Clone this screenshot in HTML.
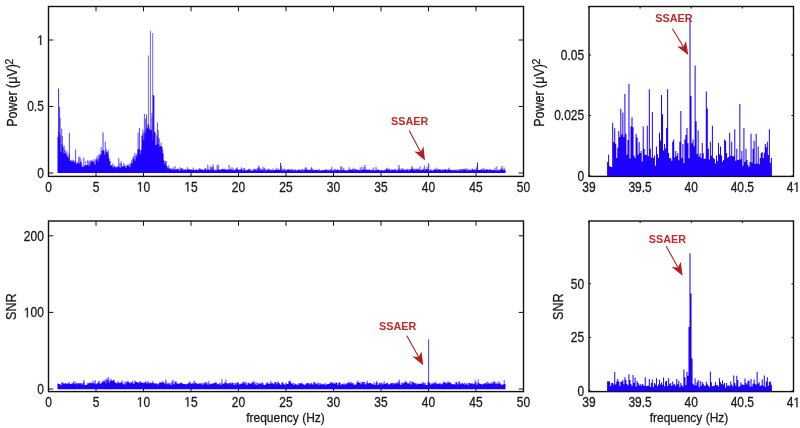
<!DOCTYPE html>
<html><head><meta charset="utf-8"><style>
html,body{margin:0;padding:0;background:#fff;width:800px;height:428px;overflow:hidden}
svg{display:block;will-change:transform}
</style></head><body><svg width="800" height="428" viewBox="0 0 800 428" font-family='"Liberation Sans", sans-serif' font-size="12" fill="#1a1a1a"><style>text{stroke:#1a1a1a;stroke-width:0.25px} text.r{stroke:none}</style><rect x="48.5" y="6.5" width="475.0" height="169.9" fill="none" stroke="#111" stroke-width="1.4"/><path d="M48.50 176.4v-4.8M48.50 6.5v4.8M96.00 176.4v-4.8M96.00 6.5v4.8M143.50 176.4v-4.8M143.50 6.5v4.8M191.00 176.4v-4.8M191.00 6.5v4.8M238.50 176.4v-4.8M238.50 6.5v4.8M286.00 176.4v-4.8M286.00 6.5v4.8M333.50 176.4v-4.8M333.50 6.5v4.8M381.00 176.4v-4.8M381.00 6.5v4.8M428.50 176.4v-4.8M428.50 6.5v4.8M476.00 176.4v-4.8M476.00 6.5v4.8M523.50 176.4v-4.8M523.50 6.5v4.8M48.5 173.00h4.8M523.5 173.00h-4.8M48.5 106.50h4.8M523.5 106.50h-4.8M48.5 40.00h4.8M523.5 40.00h-4.8" stroke="#111" stroke-width="1" fill="none"/><text transform="translate(48.50,191.59) scale(1,1.15)" text-anchor="middle">0</text><text transform="translate(96.00,191.59) scale(1,1.15)" text-anchor="middle">5</text><text transform="translate(143.50,191.59) scale(1,1.15)" text-anchor="middle"> 0</text><path transform="translate(136.83,191.59) scale(0.005859,-0.006738)" d="M515 0L515 1237L197 1010L197 1180L530 1409L696 1409L696 0Z" fill="#1a1a1a" stroke="#1a1a1a" stroke-width="42.7"/><text transform="translate(191.00,191.59) scale(1,1.15)" text-anchor="middle"> 5</text><path transform="translate(184.33,191.59) scale(0.005859,-0.006738)" d="M515 0L515 1237L197 1010L197 1180L530 1409L696 1409L696 0Z" fill="#1a1a1a" stroke="#1a1a1a" stroke-width="42.7"/><text transform="translate(238.50,191.59) scale(1,1.15)" text-anchor="middle">20</text><text transform="translate(286.00,191.59) scale(1,1.15)" text-anchor="middle">25</text><text transform="translate(333.50,191.59) scale(1,1.15)" text-anchor="middle">30</text><text transform="translate(381.00,191.59) scale(1,1.15)" text-anchor="middle">35</text><text transform="translate(428.50,191.59) scale(1,1.15)" text-anchor="middle">40</text><text transform="translate(476.00,191.59) scale(1,1.15)" text-anchor="middle">45</text><text transform="translate(523.50,191.59) scale(1,1.15)" text-anchor="middle">50</text><text transform="translate(43.80,177.94) scale(1,1.15)" text-anchor="end">0</text><text transform="translate(43.80,111.44) scale(1,1.15)" text-anchor="end">0.5</text><text transform="translate(43.80,44.95) scale(1,1.15)" text-anchor="end"> </text><path transform="translate(37.13,44.95) scale(0.005859,-0.006738)" d="M515 0L515 1237L197 1010L197 1180L530 1409L696 1409L696 0Z" fill="#1a1a1a" stroke="#1a1a1a" stroke-width="42.7"/><rect x="589.0" y="6.5" width="204.5" height="169.9" fill="none" stroke="#111" stroke-width="1.4"/><path d="M589.00 176.4v-2.0M589.00 6.5v2.0M640.10 176.4v-2.0M640.10 6.5v2.0M691.20 176.4v-2.0M691.20 6.5v2.0M742.30 176.4v-2.0M742.30 6.5v2.0M793.40 176.4v-2.0M793.40 6.5v2.0M589.0 176.00h2.0M793.5 176.00h-2.0M589.0 115.50h2.0M793.5 115.50h-2.0M589.0 55.00h2.0M793.5 55.00h-2.0" stroke="#111" stroke-width="1" fill="none"/><text transform="translate(589.00,191.89) scale(1,1.15)" text-anchor="middle">39</text><text transform="translate(640.10,191.89) scale(1,1.15)" text-anchor="middle">39.5</text><text transform="translate(691.20,191.89) scale(1,1.15)" text-anchor="middle">40</text><text transform="translate(742.30,191.89) scale(1,1.15)" text-anchor="middle">40.5</text><text transform="translate(793.40,191.89) scale(1,1.15)" text-anchor="middle">4 </text><path transform="translate(793.40,191.89) scale(0.005859,-0.006738)" d="M515 0L515 1237L197 1010L197 1180L530 1409L696 1409L696 0Z" fill="#1a1a1a" stroke="#1a1a1a" stroke-width="42.7"/><text transform="translate(584.20,180.94) scale(1,1.15)" text-anchor="end">0</text><text transform="translate(584.20,120.44) scale(1,1.15)" text-anchor="end">0.025</text><text transform="translate(584.20,59.95) scale(1,1.15)" text-anchor="end">0.05</text><rect x="48.5" y="221.0" width="475.0" height="170.60000000000002" fill="none" stroke="#111" stroke-width="1.4"/><path d="M48.50 391.6v-4.8M48.50 221.0v4.8M96.00 391.6v-4.8M96.00 221.0v4.8M143.50 391.6v-4.8M143.50 221.0v4.8M191.00 391.6v-4.8M191.00 221.0v4.8M238.50 391.6v-4.8M238.50 221.0v4.8M286.00 391.6v-4.8M286.00 221.0v4.8M333.50 391.6v-4.8M333.50 221.0v4.8M381.00 391.6v-4.8M381.00 221.0v4.8M428.50 391.6v-4.8M428.50 221.0v4.8M476.00 391.6v-4.8M476.00 221.0v4.8M523.50 391.6v-4.8M523.50 221.0v4.8M48.5 389.00h4.8M523.5 389.00h-4.8M48.5 312.40h4.8M523.5 312.40h-4.8M48.5 235.80h4.8M523.5 235.80h-4.8" stroke="#111" stroke-width="1" fill="none"/><text transform="translate(48.50,406.69) scale(1,1.15)" text-anchor="middle">0</text><text transform="translate(96.00,406.69) scale(1,1.15)" text-anchor="middle">5</text><text transform="translate(143.50,406.69) scale(1,1.15)" text-anchor="middle"> 0</text><path transform="translate(136.83,406.69) scale(0.005859,-0.006738)" d="M515 0L515 1237L197 1010L197 1180L530 1409L696 1409L696 0Z" fill="#1a1a1a" stroke="#1a1a1a" stroke-width="42.7"/><text transform="translate(191.00,406.69) scale(1,1.15)" text-anchor="middle"> 5</text><path transform="translate(184.33,406.69) scale(0.005859,-0.006738)" d="M515 0L515 1237L197 1010L197 1180L530 1409L696 1409L696 0Z" fill="#1a1a1a" stroke="#1a1a1a" stroke-width="42.7"/><text transform="translate(238.50,406.69) scale(1,1.15)" text-anchor="middle">20</text><text transform="translate(286.00,406.69) scale(1,1.15)" text-anchor="middle">25</text><text transform="translate(333.50,406.69) scale(1,1.15)" text-anchor="middle">30</text><text transform="translate(381.00,406.69) scale(1,1.15)" text-anchor="middle">35</text><text transform="translate(428.50,406.69) scale(1,1.15)" text-anchor="middle">40</text><text transform="translate(476.00,406.69) scale(1,1.15)" text-anchor="middle">45</text><text transform="translate(523.50,406.69) scale(1,1.15)" text-anchor="middle">50</text><text transform="translate(43.80,393.94) scale(1,1.15)" text-anchor="end">0</text><text transform="translate(43.80,317.34) scale(1,1.15)" text-anchor="end"> 00</text><path transform="translate(23.78,317.34) scale(0.005859,-0.006738)" d="M515 0L515 1237L197 1010L197 1180L530 1409L696 1409L696 0Z" fill="#1a1a1a" stroke="#1a1a1a" stroke-width="42.7"/><text transform="translate(43.80,240.75) scale(1,1.15)" text-anchor="end">200</text><rect x="589.0" y="221.0" width="204.5" height="170.60000000000002" fill="none" stroke="#111" stroke-width="1.4"/><path d="M589.00 391.6v-2.0M589.00 221.0v2.0M640.10 391.6v-2.0M640.10 221.0v2.0M691.20 391.6v-2.0M691.20 221.0v2.0M742.30 391.6v-2.0M742.30 221.0v2.0M793.40 391.6v-2.0M793.40 221.0v2.0M589.0 391.00h2.0M793.5 391.00h-2.0M589.0 337.40h2.0M793.5 337.40h-2.0M589.0 283.80h2.0M793.5 283.80h-2.0" stroke="#111" stroke-width="1" fill="none"/><text transform="translate(589.00,407.19) scale(1,1.15)" text-anchor="middle">39</text><text transform="translate(640.10,407.19) scale(1,1.15)" text-anchor="middle">39.5</text><text transform="translate(691.20,407.19) scale(1,1.15)" text-anchor="middle">40</text><text transform="translate(742.30,407.19) scale(1,1.15)" text-anchor="middle">40.5</text><text transform="translate(793.40,407.19) scale(1,1.15)" text-anchor="middle">4 </text><path transform="translate(793.40,407.19) scale(0.005859,-0.006738)" d="M515 0L515 1237L197 1010L197 1180L530 1409L696 1409L696 0Z" fill="#1a1a1a" stroke="#1a1a1a" stroke-width="42.7"/><text transform="translate(584.20,395.94) scale(1,1.15)" text-anchor="end">0</text><text transform="translate(584.20,342.34) scale(1,1.15)" text-anchor="end">25</text><text transform="translate(584.20,288.75) scale(1,1.15)" text-anchor="end">50</text><path d="M607.09 176.0V162.0H608.11V154.7H609.13V166.0H610.14V167.0H611.16V167.0H612.18V122.8H613.20V142.0H614.21V128.2H615.23V143.7H616.25V158.0H617.27V147.4H618.28V131.0H619.30V137.0H620.32V108.7H621.33V134.6H622.35V112.4H623.37V137.0H624.39V94.0H625.40V133.7H626.42V154.7H627.44V140.0H628.46V84.0H629.47V158.5H630.49V126.4H631.51V117.3H632.53V127.3H633.54V155.7H634.56V158.0H635.58V133.7H636.60V137.4H637.61V154.7H638.63V142.0H639.65V153.0H640.67V151.0H641.68V161.5H642.70V126.4H643.72V149.0H644.73V155.1H645.75V154.7H646.77V125.8H647.79V156.2H648.80V89.2H649.82V148.7H650.84V157.5H651.86V112.0H652.87V157.9H653.89V155.6H654.91V165.8H655.93V146.4H656.94V154.2H657.96V158.0H658.98V132.7H660.00V140.6H661.01V94.9H662.03V114.3H663.05V150.5H664.07V144.0H665.08V148.6H666.10V128.0H667.12V89.2H668.13V153.0H669.15V158.6H670.17V158.0H671.19V160.8H672.20V141.8H673.22V139.5H674.24V157.4H675.26V151.0H676.27V156.0H677.29V153.0H678.31V160.3H679.33V141.8H680.34V110.9H681.36V158.1H682.38V144.0H683.40V163.1H684.41V139.5H685.43V135.0H686.45V128.0H687.47V143.2H688.48V158.3H689.50V19.0H690.52V96.0H691.53V143.2H692.55V139.5H693.57V146.3H694.59V65.5H695.60V121.2H696.62V154.0H697.64V130.4H698.66V156.5H699.67V153.3H700.69V157.9H701.71V143.0H702.73V153.3H703.74V158.9H704.76V158.5H705.78V91.4H706.80V108.6H707.81V148.7H708.83V159.6H709.85V141.8H710.87V155.7H711.88V125.8H712.90V157.9H713.92V159.2H714.93V163.6H715.95V155.6H716.97V161.1H717.99V143.0H719.00V154.2H720.02V146.4H721.04V155.6H722.06V161.8H723.07V160.1H724.09V139.5H725.11V140.7H726.13V153.3H727.14V157.9H728.16V156.9H729.18V132.7H730.20V155.8H731.21V141.8H732.23V156.3H733.25V156.2H734.27V129.2H735.28V160.7H736.30V148.7H737.32V160.0H738.33V159.7H739.35V104.0H740.37V159.2H741.39V151.0H742.40V165.7H743.42V128.0H744.44V162.1H745.46V148.7H746.47V160.0H747.49V164.9H748.51V167.0H749.53V161.9H750.54V133.8H751.56V162.8H752.58V148.7H753.60V140.7H754.61V163.9H755.63V133.8H756.65V163.5H757.67V146.4H758.68V164.2H759.70V157.9H760.72V153.1H761.73V152.0H762.75V157.9H763.77V152.8H764.79V144.0H765.80V147.2H766.82V141.8H767.84V155.0H768.86V129.2H769.87V163.1H770.89V157.9H771.91V176.0Z" fill="#1e00ff"/><path d="M607.09 391.3V381.2H608.11V381.2H609.13V381.5H610.14V385.9H611.16V383.0H612.18V383.0H613.20V384.5H614.21V372.1H615.23V384.5H616.25V381.6H617.27V379.0H618.28V381.5H619.30V386.1H620.32V382.0H621.33V381.5H622.35V380.0H623.37V384.3H624.39V377.2H625.40V380.0H626.42V384.0H627.44V385.3H628.46V374.3H629.47V380.0H630.49V384.0H631.51V386.0H632.53V375.0H633.54V383.0H634.56V377.6H635.58V386.5H636.60V381.0H637.61V383.0H638.63V385.6H639.65V384.0H640.67V385.8H641.68V384.0H642.70V384.7H643.72V386.1H644.73V377.2H645.75V386.1H646.77V386.0H647.79V385.4H648.80V379.0H649.82V387.0H650.84V383.0H651.86V379.4H652.87V387.1H653.89V383.0H654.91V384.4H655.93V378.3H656.94V386.3H657.96V384.5H658.98V379.8H660.00V384.5H661.01V382.3H662.03V384.8H663.05V377.6H664.07V386.3H665.08V381.6H666.10V380.8H667.12V386.1H668.13V378.3H669.15V384.2H670.17V383.0H671.19V386.1H672.20V381.6H673.22V384.7H674.24V383.7H675.26V386.1H676.27V379.0H677.29V384.3H678.31V380.8H679.33V387.2H680.34V383.0H681.36V385.3H682.38V386.6H683.40V369.6H684.41V377.2H685.43V385.0H686.45V371.8H687.47V375.8H688.48V327.0H689.50V253.6H690.52V293.6H691.53V358.6H692.55V383.7H693.57V385.2H694.59V378.3H695.60V385.3H696.62V382.3H697.64V380.0H698.66V387.2H699.67V381.0H700.69V385.8H701.71V382.0H702.73V383.7H703.74V385.7H704.76V385.7H705.78V381.6H706.80V384.2H707.81V385.4H708.83V387.1H709.85V371.4H710.87V382.3H711.88V386.3H712.90V386.0H713.92V385.7H714.93V382.0H715.95V384.9H716.97V385.2H717.99V386.5H719.00V378.3H720.02V382.3H721.04V384.3H722.06V380.5H723.07V384.6H724.09V383.0H725.11V387.4H726.13V383.0H727.14V385.7H728.16V385.2H729.18V386.2H730.20V381.6H731.21V384.5H732.23V386.3H733.25V375.4H734.27V383.0H735.28V385.6H736.30V375.8H737.32V380.0H738.33V387.1H739.35V386.0H740.37V382.3H741.39V384.5H742.40V384.5H743.42V385.2H744.44V378.5H745.46V383.0H746.47V384.6H747.49V380.8H748.51V380.8H749.53V386.5H750.54V379.0H751.56V386.5H752.58V383.7H753.60V379.4H754.61V383.7H755.63V384.7H756.65V372.1H757.67V383.7H758.68V382.3H759.70V385.9H760.72V385.2H761.73V379.4H762.75V385.8H763.77V375.4H764.79V387.0H765.80V381.6H766.82V377.2H767.84V386.0H768.86V382.0H769.87V381.6H770.89V384.8H771.91V391.3Z" fill="#1e00ff"/><path d="M57.50 173.0V136.9H58.50V135.0H59.50V140.1H60.50V151.7H61.50V143.9H62.50V147.6H63.50V153.2H64.50V150.9H65.50V153.8H66.50V155.6H67.50V157.9H68.50V157.1H69.50V160.9H70.50V160.1H71.50V161.6H72.50V159.8H73.50V161.6H74.50V162.6H75.50V163.9H76.50V163.2H77.50V163.0H78.50V163.7H79.50V161.3H80.50V162.3H81.50V166.8H82.50V167.1H83.50V165.3H84.50V165.9H85.50V165.3H86.50V165.0H87.50V162.6H88.50V166.1H89.50V164.4H90.50V160.3H91.50V161.6H92.50V161.1H93.50V163.0H94.50V164.5H95.50V160.1H96.50V159.5H97.50V161.6H98.50V158.4H99.50V153.9H100.50V155.3H101.50V150.9H102.50V149.9H103.50V150.9H104.50V154.8H105.50V152.2H106.50V151.6H107.50V153.9H108.50V158.8H109.50V161.1H110.50V165.6H111.50V165.0H112.50V167.7H113.50V165.7H114.50V167.0H115.50V168.3H116.50V167.2H117.50V166.6H118.50V166.3H119.50V167.7H120.50V167.8H121.50V166.2H122.50V166.9H123.50V166.0H124.50V165.3H125.50V168.1H126.50V165.8H127.50V164.6H128.50V166.4H129.50V167.0H130.50V164.1H131.50V163.1H132.50V159.0H133.50V159.0H134.50V160.7H135.50V155.9H136.50V156.5H137.50V149.3H138.50V148.7H139.50V154.0H140.50V150.0H141.50V135.5H142.50V133.8H143.50V140.1H144.50V134.4H145.50V129.7H146.50V128.5H147.50V124.3H148.50V128.0H149.50V129.8H150.50V130.1H151.50V118.1H152.50V139.9H153.50V132.1H154.50V132.8H155.50V144.9H156.50V135.3H157.50V143.9H158.50V138.3H159.50V146.6H160.50V146.1H161.50V147.3H162.50V153.7H163.50V160.4H164.50V164.3H165.50V161.3H166.50V166.1H167.50V168.6H168.50V168.2H169.50V168.9H170.50V168.4H171.50V169.4H172.50V169.4H173.50V169.9H174.50V169.1H175.50V170.1H176.50V169.0H177.50V168.5H178.50V170.4H179.50V170.4H180.50V169.1H181.50V168.4H182.50V170.1H183.50V170.3H184.50V169.1H185.50V170.0H186.50V169.8H187.50V169.7H188.50V169.2H189.50V169.8H190.50V169.4H191.50V169.7H192.50V170.1H193.50V169.8H194.50V170.2H195.50V169.6H196.50V170.3H197.50V170.3H198.50V168.7H199.50V169.6H200.50V169.6H201.50V169.3H202.50V169.9H203.50V169.8H204.50V169.4H205.50V169.4H206.50V170.3H207.50V169.1H208.50V170.0H209.50V170.3H210.50V170.2H211.50V169.9H212.50V168.6H213.50V170.4H214.50V169.6H215.50V170.6H216.50V169.7H217.50V169.1H218.50V169.8H219.50V170.0H220.50V169.5H221.50V169.2H222.50V169.3H223.50V168.7H224.50V169.6H225.50V170.0H226.50V169.8H227.50V169.7H228.50V169.6H229.50V169.7H230.50V169.6H231.50V170.6H232.50V169.2H233.50V170.1H234.50V170.4H235.50V169.3H236.50V168.9H237.50V169.4H238.50V169.6H239.50V170.3H240.50V168.8H241.50V169.2H242.50V170.4H243.50V170.2H244.50V169.7H245.50V170.7H246.50V169.7H247.50V170.0H248.50V169.0H249.50V169.2H250.50V170.7H251.50V169.7H252.50V170.7H253.50V169.1H254.50V169.7H255.50V169.5H256.50V170.4H257.50V168.8H258.50V168.8H259.50V170.4H260.50V169.6H261.50V170.2H262.50V169.8H263.50V170.5H264.50V168.9H265.50V170.4H266.50V170.0H267.50V169.5H268.50V170.2H269.50V170.0H270.50V170.2H271.50V169.9H272.50V170.5H273.50V170.1H274.50V170.0H275.50V170.0H276.50V169.8H277.50V170.0H278.50V169.4H279.50V170.0H280.50V169.9H281.50V170.2H282.50V170.2H283.50V170.6H284.50V169.6H285.50V170.5H286.50V170.3H287.50V169.7H288.50V169.6H289.50V170.1H290.50V170.8H291.50V169.6H292.50V169.7H293.50V170.7H294.50V169.4H295.50V170.3H296.50V170.5H297.50V169.8H298.50V170.0H299.50V169.8H300.50V170.8H301.50V169.0H302.50V170.2H303.50V170.8H304.50V169.6H305.50V170.1H306.50V169.7H307.50V170.1H308.50V170.0H309.50V169.8H310.50V170.3H311.50V169.5H312.50V170.2H313.50V170.4H314.50V169.9H315.50V169.7H316.50V170.1H317.50V170.4H318.50V169.6H319.50V170.8H320.50V170.5H321.50V169.9H322.50V170.7H323.50V169.9H324.50V170.0H325.50V169.5H326.50V170.5H327.50V170.3H328.50V169.8H329.50V170.8H330.50V169.1H331.50V170.4H332.50V170.4H333.50V169.5H334.50V170.0H335.50V170.8H336.50V169.6H337.50V169.5H338.50V170.2H339.50V170.2H340.50V169.7H341.50V170.5H342.50V169.8H343.50V169.9H344.50V170.4H345.50V170.8H346.50V170.1H347.50V170.5H348.50V169.4H349.50V169.9H350.50V169.6H351.50V169.9H352.50V169.8H353.50V170.4H354.50V169.6H355.50V169.1H356.50V170.1H357.50V170.3H358.50V170.1H359.50V170.2H360.50V170.4H361.50V169.9H362.50V170.1H363.50V169.2H364.50V170.0H365.50V169.8H366.50V169.4H367.50V170.1H368.50V169.2H369.50V170.3H370.50V170.4H371.50V170.2H372.50V170.0H373.50V170.7H374.50V170.0H375.50V170.8H376.50V169.2H377.50V170.0H378.50V170.3H379.50V170.5H380.50V170.2H381.50V170.1H382.50V170.5H383.50V170.5H384.50V170.0H385.50V170.2H386.50V169.4H387.50V169.3H388.50V169.9H389.50V169.7H390.50V170.7H391.50V169.6H392.50V170.0H393.50V169.7H394.50V169.0H395.50V170.8H396.50V169.8H397.50V170.5H398.50V169.6H399.50V170.7H400.50V170.2H401.50V169.8H402.50V169.6H403.50V169.9H404.50V170.4H405.50V170.2H406.50V169.4H407.50V169.9H408.50V170.8H409.50V169.4H410.50V169.7H411.50V169.4H412.50V170.1H413.50V169.4H414.50V170.5H415.50V169.6H416.50V170.2H417.50V169.5H418.50V169.3H419.50V170.3H420.50V169.9H421.50V169.9H422.50V169.2H423.50V169.5H424.50V170.6H425.50V169.6H426.50V169.5H427.50V169.0H428.50V170.8H429.50V170.2H430.50V169.2H431.50V170.7H432.50V170.6H433.50V169.6H434.50V169.3H435.50V170.3H436.50V169.6H437.50V169.9H438.50V169.1H439.50V169.9H440.50V169.4H441.50V170.4H442.50V170.0H443.50V170.0H444.50V169.3H445.50V169.6H446.50V170.4H447.50V169.6H448.50V169.5H449.50V170.0H450.50V170.1H451.50V170.0H452.50V170.8H453.50V169.8H454.50V169.8H455.50V170.4H456.50V169.5H457.50V170.7H458.50V170.3H459.50V170.2H460.50V169.0H461.50V170.8H462.50V169.6H463.50V169.4H464.50V169.7H465.50V169.3H466.50V170.5H467.50V170.8H468.50V169.5H469.50V170.6H470.50V170.1H471.50V170.6H472.50V169.4H473.50V169.5H474.50V170.4H475.50V169.5H476.50V169.9H477.50V170.0H478.50V169.9H479.50V170.1H480.50V169.6H481.50V169.8H482.50V170.2H483.50V169.4H484.50V170.3H485.50V169.8H486.50V169.7H487.50V169.2H488.50V170.3H489.50V169.1H490.50V169.9H491.50V170.1H492.50V170.4H493.50V169.7H494.50V170.0H495.50V170.6H496.50V170.6H497.50V170.3H498.50V170.4H499.50V169.4H500.50V169.2H501.50V169.5H502.50V169.8H503.50V170.2H504.50V170.0H505.50V173.0Z" fill="#1e00ff"/><path d="M58.7 135.5V131.7M60.3 140.6V135.1M62.8 148.1V146.5M64.1 153.7V145.6M65.0 151.4V149.4M66.2 154.3V152.5M67.8 158.4V156.0M69.1 157.6V153.3M75.0 163.1V160.4M77.1 163.7V161.9M78.7 164.2V157.1M79.9 161.8V156.5M81.9 167.3V164.6M83.8 165.8V157.4M85.0 166.4V165.4M87.7 163.1V160.1M89.2 166.6V160.6M93.1 161.6V159.5M94.2 163.5V161.0M96.2 160.6V158.4M97.0 160.0V156.4M98.3 162.1V160.4M99.2 158.9V156.3M100.9 155.8V154.8M103.3 150.4V149.7M105.0 155.3V154.7M106.1 152.7V149.0M107.7 154.4V151.7M109.1 159.3V158.1M112.3 165.5V164.7M112.8 168.2V167.0M114.8 167.5V166.3M116.3 168.8V166.2M118.8 166.8V158.2M120.0 168.2V163.0M121.2 168.3V161.3M123.1 167.4V165.9M123.8 166.5V162.9M126.2 168.6V166.7M126.7 166.3V165.6M128.7 166.9V165.2M130.0 167.5V163.3M131.1 164.6V162.8M131.8 163.6V160.0M133.2 159.5V157.2M133.8 159.5V155.6M135.0 161.2V153.1M137.2 157.0V153.5M139.7 154.5V150.1M142.9 134.3V129.4M144.1 140.6V132.0M144.9 134.9V132.4M146.9 129.0V127.7M148.8 128.5V125.5M152.0 118.6V113.0M153.1 140.4V134.7M154.2 132.6V131.8M155.3 133.3V132.5M159.8 147.1V146.2M161.9 147.8V146.7M163.1 154.2V153.5M165.3 164.8V161.6M165.9 161.8V161.0M168.2 169.1V167.6M168.8 168.7V165.3M171.0 168.9V168.1M173.3 169.9V167.3M173.9 170.4V168.9M175.0 169.6V166.0M176.2 170.6V169.1M178.8 170.9V169.2M180.1 170.9V167.3M181.1 169.6V168.2M183.1 170.6V168.4M187.2 170.3V167.2M188.2 170.2V168.7M189.2 169.7V169.0M193.2 170.6V167.5M196.1 170.1V169.4M196.8 170.8V169.9M197.7 170.8V170.1M199.8 170.1V168.3M200.9 170.1V169.3M205.0 169.9V168.2M205.7 169.9V168.1M207.0 170.8V169.6M207.8 169.6V164.6M208.7 170.5V169.3M210.2 170.8V166.3M211.2 170.7V167.8M211.7 170.4V166.8M213.1 169.1V166.9M213.7 170.9V170.3M217.1 170.2V165.2M218.3 169.6V164.6M219.1 170.3V169.8M221.9 169.7V168.8M225.8 170.5V168.8M226.9 170.3V169.6M230.2 170.2V169.2M230.9 170.1V169.0M231.9 171.1V167.2M233.1 169.7V168.5M235.0 170.9V170.1M235.9 169.8V168.1M237.1 169.4V167.3M241.7 169.7V167.3M243.8 170.7V167.9M244.7 170.2V168.3M248.9 169.5V168.6M254.1 169.6V168.6M256.2 170.0V168.7M257.9 169.3V167.7M259.8 170.9V167.5M260.9 170.1V168.8M261.8 170.7V169.6M263.0 170.3V167.2M264.1 171.0V167.4M265.1 169.4V168.3M267.9 170.0V168.6M269.1 170.7V168.9M270.3 170.5V169.2M273.0 171.0V168.4M276.2 170.5V167.7M278.1 170.5V168.4M281.3 170.4V165.7M282.8 170.7V168.4M284.1 171.1V169.2M284.8 170.1V169.3M287.0 170.8V169.5M287.8 170.2V169.2M290.1 170.6V168.7M290.7 171.3V170.3M291.7 170.1V169.3M292.9 170.2V169.6M294.0 171.2V170.6M295.2 169.9V169.4M297.9 170.3V169.8M299.2 170.5V169.7M300.7 171.3V170.3M304.0 171.3V169.0M305.2 170.1V167.4M306.2 170.6V167.4M306.8 170.2V168.8M311.0 170.8V168.4M311.7 170.0V167.1M312.8 170.7V168.7M313.7 170.9V169.9M318.9 170.1V169.1M320.1 171.3V170.6M323.1 171.2V170.2M326.2 170.0V169.3M327.0 171.0V169.8M327.9 170.8V170.0M330.0 171.3V170.2M331.8 170.9V167.1M335.0 170.5V168.5M336.2 171.3V170.1M340.1 170.7V170.1M340.8 170.2V166.3M341.9 171.0V166.4M343.8 170.4V168.1M345.7 171.3V170.0M349.1 169.9V167.3M349.8 170.4V169.6M352.0 170.4V169.0M353.1 170.3V168.8M353.9 170.9V167.7M356.7 170.6V170.1M357.7 170.8V169.7M360.2 170.7V167.4M360.9 170.9V170.0M361.9 170.4V166.6M363.1 170.6V169.1M364.1 169.7V167.0M366.0 170.3V169.6M369.8 170.8V169.7M370.9 170.9V170.1M371.9 170.7V169.6M373.2 170.5V167.6M374.9 170.5V169.5M376.0 171.3V166.9M378.8 170.8V169.5M384.8 170.5V169.8M386.2 170.7V168.5M386.7 169.9V167.6M387.8 169.8V169.2M389.1 170.4V168.3M391.0 171.2V169.4M391.9 170.1V169.6M395.9 171.3V169.5M398.8 170.1V168.4M400.1 171.2V168.5M401.1 170.7V170.0M402.1 170.3V168.1M403.2 170.1V168.7M404.7 170.9V169.9M406.0 170.7V168.8M407.8 170.4V169.0M409.2 171.3V169.4M409.8 169.9V169.3M411.0 170.2V169.3M412.0 169.9V167.6M412.7 170.6V168.7M414.2 169.9V168.4M414.9 171.0V169.6M416.0 170.1V168.9M416.8 170.7V168.8M417.9 170.0V168.5M419.0 169.8V169.3M420.1 170.8V166.4M423.0 169.7V168.6M424.3 170.0V165.3M425.1 171.1V168.9M426.1 170.1V169.1M427.0 170.0V166.5M432.1 171.2V170.4M435.2 169.8V168.7M436.2 170.8V169.5M436.9 170.1V167.6M439.9 170.4V169.3M443.0 170.5V168.8M445.8 170.1V169.4M447.3 170.9V169.8M448.1 170.1V169.5M449.0 170.0V167.7M450.0 170.5V169.8M451.2 170.6V170.0M452.1 170.5V169.9M458.8 170.8V169.0M459.8 170.7V169.9M460.9 169.5V169.0M462.0 171.3V169.8M462.9 170.1V169.3M464.1 169.9V168.5M466.0 169.8V168.2M467.7 171.3V168.8M469.1 170.0V169.5M470.1 171.1V169.8M470.8 170.6V169.9M472.2 171.1V168.3M472.8 169.9V169.1M474.8 170.9V169.8M476.0 170.0V168.5M476.9 170.4V166.7M482.0 170.3V168.6M483.8 169.9V167.9M485.0 170.8V169.4M486.3 170.3V169.1M487.1 170.2V169.7M492.3 170.6V169.8M493.0 170.9V170.0M495.0 170.5V167.6M496.8 171.1V166.5M498.0 170.8V169.7M501.7 170.0V168.3M503.1 170.3V169.7M504.1 170.7V167.5M504.8 170.5V169.6" stroke="#1e00ff" stroke-width="0.8" stroke-opacity="0.9" fill="none"/><path d="M58.6 173.0V88.5" stroke="#1e00ff" stroke-width="1" stroke-opacity="0.85"/><path d="M59.6 173.0V106.9" stroke="#1e00ff" stroke-width="1" stroke-opacity="0.8"/><path d="M60.2 173.0V118.0" stroke="#1e00ff" stroke-width="1" stroke-opacity="0.6"/><path d="M61.7 173.0V128.5" stroke="#1e00ff" stroke-width="1" stroke-opacity="0.7"/><path d="M62.5 173.0V136.0" stroke="#1e00ff" stroke-width="1" stroke-opacity="0.6"/><path d="M67.1 173.0V151.0" stroke="#1e00ff" stroke-width="1" stroke-opacity="0.5"/><path d="M69.4 173.0V133.0" stroke="#1e00ff" stroke-width="1" stroke-opacity="0.75"/><path d="M75.6 173.0V149.4" stroke="#1e00ff" stroke-width="1" stroke-opacity="0.7"/><path d="M81.0 173.0V159.0" stroke="#1e00ff" stroke-width="1" stroke-opacity="0.5"/><path d="M85.6 173.0V161.0" stroke="#1e00ff" stroke-width="1" stroke-opacity="0.5"/><path d="M90.3 173.0V161.0" stroke="#1e00ff" stroke-width="1" stroke-opacity="0.5"/><path d="M94.9 173.0V159.0" stroke="#1e00ff" stroke-width="1" stroke-opacity="0.5"/><path d="M98.3 173.0V154.7" stroke="#1e00ff" stroke-width="1" stroke-opacity="0.6"/><path d="M101.1 173.0V147.0" stroke="#1e00ff" stroke-width="1" stroke-opacity="0.7"/><path d="M103.0 173.0V132.4" stroke="#1e00ff" stroke-width="1" stroke-opacity="0.8"/><path d="M105.3 173.0V141.6" stroke="#1e00ff" stroke-width="1" stroke-opacity="0.7"/><path d="M108.3 173.0V150.0" stroke="#1e00ff" stroke-width="1" stroke-opacity="0.6"/><path d="M113.0 173.0V163.0" stroke="#1e00ff" stroke-width="1" stroke-opacity="0.5"/><path d="M121.5 173.0V164.0" stroke="#1e00ff" stroke-width="1" stroke-opacity="0.5"/><path d="M136.8 173.0V154.0" stroke="#1e00ff" stroke-width="1" stroke-opacity="0.6"/><path d="M138.1 173.0V132.7" stroke="#1e00ff" stroke-width="1" stroke-opacity="0.7"/><path d="M139.4 173.0V128.0" stroke="#1e00ff" stroke-width="1" stroke-opacity="0.75"/><path d="M142.3 173.0V144.7" stroke="#1e00ff" stroke-width="1" stroke-opacity="0.6"/><path d="M144.4 173.0V114.0" stroke="#1e00ff" stroke-width="1" stroke-opacity="0.7"/><path d="M145.7 173.0V118.5" stroke="#1e00ff" stroke-width="1" stroke-opacity="0.7"/><path d="M146.5 173.0V114.5" stroke="#1e00ff" stroke-width="1" stroke-opacity="0.7"/><path d="M148.4 173.0V55.5" stroke="#1e00ff" stroke-width="1" stroke-opacity="0.6"/><path d="M150.4 173.0V30.8" stroke="#1e00ff" stroke-width="1" stroke-opacity="0.62"/><path d="M152.7 173.0V33.0" stroke="#1e00ff" stroke-width="1" stroke-opacity="0.62"/><path d="M153.4 173.0V95.0" stroke="#1e00ff" stroke-width="1" stroke-opacity="1.0"/><path d="M153.9 173.0V96.0" stroke="#1e00ff" stroke-width="1" stroke-opacity="0.9"/><path d="M157.4 173.0V122.4" stroke="#1e00ff" stroke-width="1" stroke-opacity="0.7"/><path d="M158.3 173.0V130.0" stroke="#1e00ff" stroke-width="1" stroke-opacity="0.6"/><path d="M161.1 173.0V142.5" stroke="#1e00ff" stroke-width="1" stroke-opacity="0.7"/><path d="M162.8 173.0V149.5" stroke="#1e00ff" stroke-width="1" stroke-opacity="0.6"/><path d="M258.8 173.0V165.6" stroke="#1e00ff" stroke-width="1" stroke-opacity="0.9"/><path d="M280.6 173.0V163.0" stroke="#1e00ff" stroke-width="1" stroke-opacity="0.9"/><path d="M213.0 173.0V164.5" stroke="#1e00ff" stroke-width="1" stroke-opacity="0.8"/><path d="M229.0 173.0V165.0" stroke="#1e00ff" stroke-width="1" stroke-opacity="0.8"/><path d="M365.0 173.0V165.0" stroke="#1e00ff" stroke-width="1" stroke-opacity="0.8"/><path d="M399.0 173.0V165.0" stroke="#1e00ff" stroke-width="1" stroke-opacity="0.8"/><path d="M412.0 173.0V166.0" stroke="#1e00ff" stroke-width="1" stroke-opacity="0.8"/><path d="M428.7 173.0V163.5" stroke="#1e00ff" stroke-width="1" stroke-opacity="0.9"/><path d="M477.5 173.0V162.5" stroke="#1e00ff" stroke-width="1" stroke-opacity="0.9"/><path d="M502.0 173.0V166.0" stroke="#1e00ff" stroke-width="1" stroke-opacity="0.8"/><path d="M57.50 389.3V383.5H58.50V384.1H59.50V384.0H60.50V385.3H61.50V382.2H62.50V382.7H63.50V383.9H64.50V383.0H65.50V383.4H66.50V384.1H67.50V382.8H68.50V383.9H69.50V383.9H70.50V384.3H71.50V383.2H72.50V383.7H73.50V383.1H74.50V384.1H75.50V383.5H76.50V384.4H77.50V382.9H78.50V383.4H79.50V383.3H80.50V383.2H81.50V384.4H82.50V382.9H83.50V381.8H84.50V385.0H85.50V385.0H86.50V384.8H87.50V382.8H88.50V383.4H89.50V382.6H90.50V382.9H91.50V383.3H92.50V383.3H93.50V383.7H94.50V382.7H95.50V384.3H96.50V383.6H97.50V382.8H98.50V381.1H99.50V383.5H100.50V383.4H101.50V382.5H102.50V380.4H103.50V381.7H104.50V379.9H105.50V383.6H106.50V380.0H107.50V380.0H108.50V382.9H109.50V381.0H110.50V379.7H111.50V381.0H112.50V380.3H113.50V379.7H114.50V382.0H115.50V383.0H116.50V383.5H117.50V382.1H118.50V382.9H119.50V382.9H120.50V382.8H121.50V382.1H122.50V383.7H123.50V384.2H124.50V384.5H125.50V381.5H126.50V382.6H127.50V381.2H128.50V382.7H129.50V383.4H130.50V382.2H131.50V382.7H132.50V383.8H133.50V383.4H134.50V380.6H135.50V382.0H136.50V381.9H137.50V382.6H138.50V383.0H139.50V381.3H140.50V382.4H141.50V383.1H142.50V382.5H143.50V383.3H144.50V382.3H145.50V381.4H146.50V383.4H147.50V381.2H148.50V383.3H149.50V382.5H150.50V383.6H151.50V383.0H152.50V382.8H153.50V383.3H154.50V383.5H155.50V383.6H156.50V383.7H157.50V384.5H158.50V383.3H159.50V382.7H160.50V382.2H161.50V382.5H162.50V381.3H163.50V382.9H164.50V383.6H165.50V381.6H166.50V384.2H167.50V382.5H168.50V384.2H169.50V383.1H170.50V385.1H171.50V382.6H172.50V383.5H173.50V384.3H174.50V381.9H175.50V382.7H176.50V383.4H177.50V384.1H178.50V383.4H179.50V383.6H180.50V382.8H181.50V382.7H182.50V384.0H183.50V383.9H184.50V383.9H185.50V384.6H186.50V383.9H187.50V383.5H188.50V382.8H189.50V382.3H190.50V384.1H191.50V382.9H192.50V383.8H193.50V381.7H194.50V383.5H195.50V383.0H196.50V384.2H197.50V384.1H198.50V383.2H199.50V383.8H200.50V383.1H201.50V384.8H202.50V382.8H203.50V384.2H204.50V381.9H205.50V383.7H206.50V382.5H207.50V384.7H208.50V383.1H209.50V384.2H210.50V383.9H211.50V383.4H212.50V383.7H213.50V383.2H214.50V382.8H215.50V382.9H216.50V383.5H217.50V384.6H218.50V384.1H219.50V383.6H220.50V385.1H221.50V382.8H222.50V383.7H223.50V383.7H224.50V382.6H225.50V382.9H226.50V383.3H227.50V384.3H228.50V383.2H229.50V383.1H230.50V384.2H231.50V382.5H232.50V383.0H233.50V385.1H234.50V383.3H235.50V384.6H236.50V382.5H237.50V382.7H238.50V384.4H239.50V384.2H240.50V383.4H241.50V383.7H242.50V382.1H243.50V382.8H244.50V383.7H245.50V383.0H246.50V385.1H247.50V383.2H248.50V382.7H249.50V383.6H250.50V384.1H251.50V383.0H252.50V381.8H253.50V383.3H254.50V384.4H255.50V382.2H256.50V385.1H257.50V383.0H258.50V384.0H259.50V382.7H260.50V384.2H261.50V382.3H262.50V383.2H263.50V385.0H264.50V385.1H265.50V383.7H266.50V382.4H267.50V383.4H268.50V383.4H269.50V383.7H270.50V382.8H271.50V383.2H272.50V383.2H273.50V384.3H274.50V382.5H275.50V382.3H276.50V384.6H277.50V381.7H278.50V382.9H279.50V383.9H280.50V385.1H281.50V382.9H282.50V383.0H283.50V384.0H284.50V385.0H285.50V382.5H286.50V384.0H287.50V383.9H288.50V381.7H289.50V381.8H290.50V382.7H291.50V383.9H292.50V382.9H293.50V385.1H294.50V383.4H295.50V384.2H296.50V384.6H297.50V384.9H298.50V383.0H299.50V383.4H300.50V383.4H301.50V382.8H302.50V384.2H303.50V384.6H304.50V385.0H305.50V383.8H306.50V382.8H307.50V383.6H308.50V382.9H309.50V384.5H310.50V383.9H311.50V384.2H312.50V384.6H313.50V381.9H314.50V382.8H315.50V384.2H316.50V384.2H317.50V383.5H318.50V384.7H319.50V383.1H320.50V384.6H321.50V383.8H322.50V384.4H323.50V383.9H324.50V384.7H325.50V384.9H326.50V384.3H327.50V384.1H328.50V383.8H329.50V383.4H330.50V382.2H331.50V382.8H332.50V383.7H333.50V382.9H334.50V384.1H335.50V382.2H336.50V383.0H337.50V384.7H338.50V382.8H339.50V382.8H340.50V385.1H341.50V384.1H342.50V383.9H343.50V385.1H344.50V384.4H345.50V384.3H346.50V383.1H347.50V383.2H348.50V381.8H349.50V383.8H350.50V382.5H351.50V383.4H352.50V383.3H353.50V384.5H354.50V385.1H355.50V384.2H356.50V382.8H357.50V382.1H358.50V383.0H359.50V383.1H360.50V384.2H361.50V382.2H362.50V382.3H363.50V384.0H364.50V383.5H365.50V384.4H366.50V382.2H367.50V383.1H368.50V383.6H369.50V383.1H370.50V383.1H371.50V383.9H372.50V384.6H373.50V384.6H374.50V385.0H375.50V383.1H376.50V381.8H377.50V385.0H378.50V383.4H379.50V383.1H380.50V384.4H381.50V383.3H382.50V384.4H383.50V382.5H384.50V384.0H385.50V383.4H386.50V382.9H387.50V383.9H388.50V385.0H389.50V384.0H390.50V382.8H391.50V383.6H392.50V383.3H393.50V384.4H394.50V383.4H395.50V382.9H396.50V383.5H397.50V381.9H398.50V383.7H399.50V384.4H400.50V384.9H401.50V382.5H402.50V383.5H403.50V382.6H404.50V383.1H405.50V382.1H406.50V382.4H407.50V383.8H408.50V383.3H409.50V382.6H410.50V384.6H411.50V382.2H412.50V382.4H413.50V382.6H414.50V383.7H415.50V383.2H416.50V384.5H417.50V383.4H418.50V384.0H419.50V383.4H420.50V383.9H421.50V383.2H422.50V382.5H423.50V384.6H424.50V382.7H425.50V385.1H426.50V385.1H427.50V383.6H428.50V383.5H429.50V383.1H430.50V384.9H431.50V383.5H432.50V383.4H433.50V382.4H434.50V383.6H435.50V383.0H436.50V384.3H437.50V383.6H438.50V383.9H439.50V382.8H440.50V384.3H441.50V384.2H442.50V383.0H443.50V381.9H444.50V383.1H445.50V383.2H446.50V383.8H447.50V382.5H448.50V383.0H449.50V381.9H450.50V383.2H451.50V384.3H452.50V383.9H453.50V384.3H454.50V384.5H455.50V382.3H456.50V382.7H457.50V384.5H458.50V381.9H459.50V383.2H460.50V384.3H461.50V383.1H462.50V383.5H463.50V384.1H464.50V385.1H465.50V383.4H466.50V383.2H467.50V385.1H468.50V382.9H469.50V382.9H470.50V383.8H471.50V383.3H472.50V383.7H473.50V384.2H474.50V383.7H475.50V382.2H476.50V384.7H477.50V383.2H478.50V383.3H479.50V384.0H480.50V383.8H481.50V384.6H482.50V384.2H483.50V383.4H484.50V383.1H485.50V384.2H486.50V381.7H487.50V383.9H488.50V383.3H489.50V383.6H490.50V383.8H491.50V382.3H492.50V383.8H493.50V382.2H494.50V382.4H495.50V384.3H496.50V382.5H497.50V384.0H498.50V381.6H499.50V383.7H500.50V384.2H501.50V385.1H502.50V384.5H503.50V383.9H504.50V384.3H505.50V389.3Z" fill="#1e00ff"/><path d="M68.0 383.3V382.8M69.3 384.4V382.1M70.8 384.8V384.2M73.2 384.2V382.0M74.1 383.6V380.9M75.9 384.0V382.2M76.9 384.9V383.4M83.9 382.3V379.7M87.2 385.3V384.2M92.9 383.8V380.6M94.0 384.2V381.8M95.2 383.2V380.0M99.2 381.6V380.9M101.9 383.0V382.2M106.2 384.1V382.3M107.1 380.5V377.9M107.7 380.5V379.9M110.2 381.5V380.8M111.1 380.2V378.8M116.3 383.5V382.7M118.2 382.6V381.1M121.0 383.3V382.3M122.0 382.6V380.1M124.2 384.7V381.9M127.9 381.7V380.8M129.0 383.2V382.2M129.8 383.9V382.6M132.0 383.2V382.3M132.7 384.3V380.6M140.8 382.9V381.4M151.1 384.1V382.5M152.8 383.3V380.9M156.7 384.2V383.3M159.8 383.2V382.1M165.8 382.1V379.4M169.2 384.7V383.7M172.1 383.1V380.9M172.9 384.0V379.6M174.9 382.4V381.1M176.1 383.2V381.3M177.1 383.9V383.3M180.1 384.1V383.4M189.9 382.8V381.4M192.8 384.3V383.6M194.2 382.2V380.6M195.8 383.5V382.3M196.8 384.7V383.1M197.8 384.6V384.0M199.7 384.3V383.7M204.1 384.7V383.9M205.8 384.2V382.1M208.9 383.6V380.8M213.2 384.2V383.2M215.9 383.4V381.7M218.3 385.1V384.0M219.8 384.1V382.6M221.9 383.3V378.9M224.8 383.1V382.4M225.9 383.4V379.3M228.2 384.8V383.1M230.7 384.7V382.7M235.0 383.8V382.9M238.0 383.2V382.1M238.8 384.9V383.4M244.1 383.3V381.2M245.9 383.5V381.9M252.1 383.5V381.8M254.0 383.8V381.1M257.7 383.5V383.0M267.3 382.9V382.3M270.8 383.3V380.8M274.0 384.8V384.1M274.8 383.0V382.1M277.0 385.1V383.6M277.8 382.2V381.5M279.7 384.4V383.6M282.3 383.4V381.7M287.0 384.5V384.0M289.1 382.2V381.0M290.1 382.2V381.5M293.2 383.4V382.9M311.2 384.4V383.0M311.7 384.7V382.7M314.0 382.4V381.8M316.2 384.7V383.9M316.9 384.7V383.5M318.0 384.0V382.6M320.9 385.1V384.5M325.0 385.2V382.7M327.0 384.8V383.9M330.7 382.7V381.8M333.1 384.2V382.4M335.2 384.6V383.6M339.8 383.3V382.2M342.3 384.6V383.9M344.0 385.6V382.7M344.9 384.9V384.2M350.0 384.3V382.9M350.9 383.0V382.1M353.0 383.8V383.0M357.2 383.3V382.0M358.0 382.6V380.5M360.0 383.6V381.8M362.9 382.8V381.7M363.7 384.5V382.0M364.7 384.0V381.7M367.2 382.7V380.7M373.2 385.1V384.5M374.0 385.1V381.8M376.8 382.3V381.0M381.3 384.9V382.3M383.2 384.9V384.2M384.2 383.0V381.3M387.7 384.4V382.5M389.1 385.5V384.4M390.1 384.5V383.8M392.8 383.8V382.7M394.2 384.9V383.1M398.0 382.4V381.5M399.0 384.2V381.4M399.8 384.9V383.1M405.2 383.6V380.6M406.1 382.6V381.7M410.1 383.1V380.8M412.1 382.7V381.1M415.0 384.2V382.8M423.1 383.0V381.9M423.9 385.1V383.7M428.0 384.1V381.6M429.3 384.0V382.5M431.3 385.4V383.9M435.8 383.5V381.5M439.2 384.4V383.8M443.8 382.4V381.1M445.8 383.7V382.1M447.1 384.3V382.2M448.2 383.0V381.3M456.1 382.8V381.6M459.0 382.4V380.9M459.7 383.7V382.4M464.3 384.6V382.3M464.9 385.6V384.5M468.2 385.6V385.0M475.0 384.2V382.3M475.8 382.7V381.3M478.2 383.7V379.3M478.8 383.8V382.5M486.2 384.7V383.3M488.1 384.4V382.0M493.0 384.3V383.1M493.8 382.7V381.0M495.1 382.9V381.9M499.9 384.2V382.8M504.2 384.4V380.0M505.1 384.8V384.2" stroke="#1e00ff" stroke-width="0.8" stroke-opacity="0.9" fill="none"/><path d="M108.7 389.3V377.2" stroke="#1e00ff" stroke-width="1" stroke-opacity="0.7"/><path d="M106.0 389.3V379.0" stroke="#1e00ff" stroke-width="1" stroke-opacity="0.6"/><path d="M428.6 389.3V339.4" stroke="#1e00ff" stroke-width="1" stroke-opacity="0.8"/><path d="M399.4 389.3V379.4" stroke="#1e00ff" stroke-width="1" stroke-opacity="0.6"/><path d="M290.0 389.3V380.0" stroke="#1e00ff" stroke-width="1" stroke-opacity="0.5"/><path d="M475.0 389.3V379.5" stroke="#1e00ff" stroke-width="1" stroke-opacity="0.5"/><text transform="translate(16.8,92.8) rotate(-90) scale(1,1.1)" text-anchor="middle" font-size="12.5">Power (μV)<tspan font-size="10.5" dx="-0.5" dy="-3.4">2</tspan></text><text transform="translate(543.6,92.8) rotate(-90) scale(1,1.1)" text-anchor="middle" font-size="12.5">Power (μV)<tspan font-size="10.5" dx="-0.5" dy="-3.4">2</tspan></text><text transform="translate(15.6,306.6) rotate(-90) scale(1,1.1)" text-anchor="middle" font-size="12.6">SNR</text><text transform="translate(563.2,306.6) rotate(-90) scale(1,1.1)" text-anchor="middle" font-size="12.6">SNR</text><text transform="translate(285.5,421.9) scale(1,1.1)" text-anchor="middle">frequency (Hz)</text><text transform="translate(689,421.9) scale(1,1.1)" text-anchor="middle">frequency (Hz)</text><text class="r" x="391.0" y="124.8" font-weight="bold" font-size="10.8" fill="#c02a2a">SSAER</text><path d="M409.2 130.6L420.6 152.1" stroke="#b02020" stroke-width="1.1" fill="none"/><path d="M425.0 160.5L414.3 151.4L420.6 152.1L423.5 146.6Z" fill="#b02020"/><text class="r" x="655.3" y="21.799999999999997" font-weight="bold" font-size="10.8" fill="#c02a2a">SSAER</text><path d="M672.4 28.7L683.4 46.8" stroke="#b02020" stroke-width="1.1" fill="none"/><path d="M688.3 54.9L677.1 46.5L683.4 46.8L686.0 41.1Z" fill="#b02020"/><text class="r" x="379.0" y="329.6" font-weight="bold" font-size="10.8" fill="#c02a2a">SSAER</text><path d="M406.8 335.8L418.7 357.0" stroke="#b02020" stroke-width="1.1" fill="none"/><path d="M423.3 365.3L412.4 356.5L418.7 357.0L421.5 351.4Z" fill="#b02020"/><text class="r" x="648.8" y="243.0" font-weight="bold" font-size="10.8" fill="#c02a2a">SSAER</text><path d="M666.2 246.3L678.0 267.4" stroke="#b02020" stroke-width="1.1" fill="none"/><path d="M682.6 275.7L671.7 266.9L678.0 267.4L680.8 261.8Z" fill="#b02020"/></svg></body></html>
